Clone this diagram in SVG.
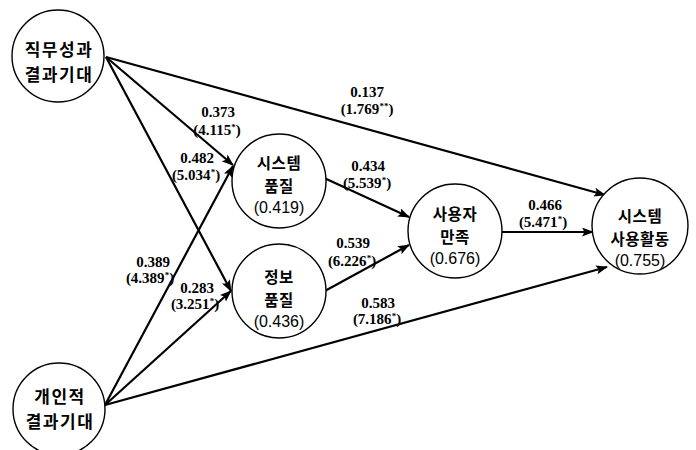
<svg xmlns="http://www.w3.org/2000/svg" width="696" height="450" viewBox="0 0 696 450">
<defs>
<marker id="arr" viewBox="0 0 12 9" refX="11" refY="4.5" markerWidth="12" markerHeight="9" markerUnits="userSpaceOnUse" orient="auto">
<path d="M0,0 L12,4.5 L0,9 L2.5,4.5 z" fill="#000"/>
</marker>
<style>
.node{fill:#fff;stroke:#000;stroke-width:1.4}
.k{font-family:"Noto Sans CJK KR","Noto Sans",sans-serif;font-size:15.5px;text-anchor:middle;fill:#000;font-weight:bold;letter-spacing:0.5px}
.kb{font-family:"Noto Sans CJK KR","Noto Sans",sans-serif;font-size:17px;text-anchor:middle;fill:#000;font-weight:bold;letter-spacing:1.5px}
.n{font-family:"Liberation Sans",Arial,sans-serif;font-size:16px;text-anchor:middle;fill:#000}
.e{fill:none;stroke:#000;stroke-width:2.2;marker-end:url(#arr)}
.l{font-family:"Liberation Serif","Times New Roman",serif;font-size:15px;font-weight:bold;text-anchor:middle;fill:#000}
.s{font-size:9px}
</style>
</defs>
<rect width="696" height="450" fill="#fff"/>
<g id="connectors">
<line class="e" x1="106" y1="57" x2="605" y2="195"/>
<line class="e" x1="106" y1="57" x2="233" y2="165"/>
<line class="e" x1="106" y1="57" x2="231" y2="291"/>
<line class="e" x1="105" y1="405" x2="233" y2="166"/>
<line class="e" x1="105" y1="405" x2="231" y2="291"/>
<line class="e" x1="105" y1="405" x2="607" y2="267"/>
<line class="e" x1="322" y1="177" x2="409" y2="217"/>
<line class="e" x1="323" y1="292" x2="409" y2="245"/>
<line class="e" x1="502" y1="232" x2="593" y2="232"/>
</g>
<g id="labels">
<text class="l" x="367" y="97">0.137</text>
<text class="l" x="367" y="114">(1.769<tspan class="s" dy="-5">**</tspan><tspan dy="5">)</tspan></text>
<text class="l" x="218" y="117">0.373</text>
<text class="l" x="217" y="135">(4.115<tspan class="s" dy="-5">*</tspan><tspan dy="5">)</tspan></text>
<text class="l" x="197" y="163">0.482</text>
<text class="l" x="196" y="180">(5.034<tspan class="s" dy="-5">*</tspan><tspan dy="5">)</tspan></text>
<text class="l" x="368" y="171">0.434</text>
<text class="l" x="367" y="188">(5.539<tspan class="s" dy="-5">*</tspan><tspan dy="5">)</tspan></text>
<text class="l" x="353" y="248">0.539</text>
<text class="l" x="352" y="266">(6.226<tspan class="s" dy="-5">*</tspan><tspan dy="5">)</tspan></text>
<text class="l" x="153" y="267">0.389</text>
<text class="l" x="150" y="283">(4.389<tspan class="s" dy="-5">*</tspan><tspan dy="5">)</tspan></text>
<text class="l" x="197" y="293">0.283</text>
<text class="l" x="195" y="309">(3.251<tspan class="s" dy="-5">*</tspan><tspan dy="5">)</tspan></text>
<text class="l" x="378" y="308">0.583</text>
<text class="l" x="377" y="324">(7.186<tspan class="s" dy="-5">*</tspan><tspan dy="5">)</tspan></text>
<text class="l" x="545" y="210">0.466</text>
<text class="l" x="543" y="227">(5.471<tspan class="s" dy="-5">*</tspan><tspan dy="5">)</tspan></text>
</g>
<g id="job">
<circle class="node" cx="58" cy="56" r="46"/>
<text class="kb" x="59" y="56">직무성과</text>
<text class="kb" x="59" y="81">결과기대</text>
</g>
<g id="personal">
<circle class="node" cx="59" cy="409" r="46"/>
<text class="kb" x="60" y="403">개인적</text>
<text class="kb" x="60" y="428">결과기대</text>
</g>
<g id="sysq">
<circle class="node" cx="279" cy="181" r="47"/>
<text class="k" x="279" y="169">시스템</text>
<text class="k" x="279" y="192">품질</text>
<text class="n" x="279" y="213">(0.419)</text>
</g>
<g id="infoq">
<circle class="node" cx="279" cy="291" r="47"/>
<text class="k" x="279" y="283">정보</text>
<text class="k" x="279" y="306">품질</text>
<text class="n" x="279" y="327">(0.436)</text>
</g>
<g id="sat">
<circle class="node" cx="455" cy="231" r="47"/>
<text class="k" x="455" y="220">사용자</text>
<text class="k" x="455" y="243">만족</text>
<text class="n" x="455" y="264">(0.676)</text>
</g>
<g id="use">
<circle class="node" cx="640" cy="226" r="48"/>
<text class="k" x="640" y="222">시스템</text>
<text class="k" x="640" y="245">사용활동</text>
<text class="n" x="640" y="266">(0.755)</text>
</g>
</svg>
